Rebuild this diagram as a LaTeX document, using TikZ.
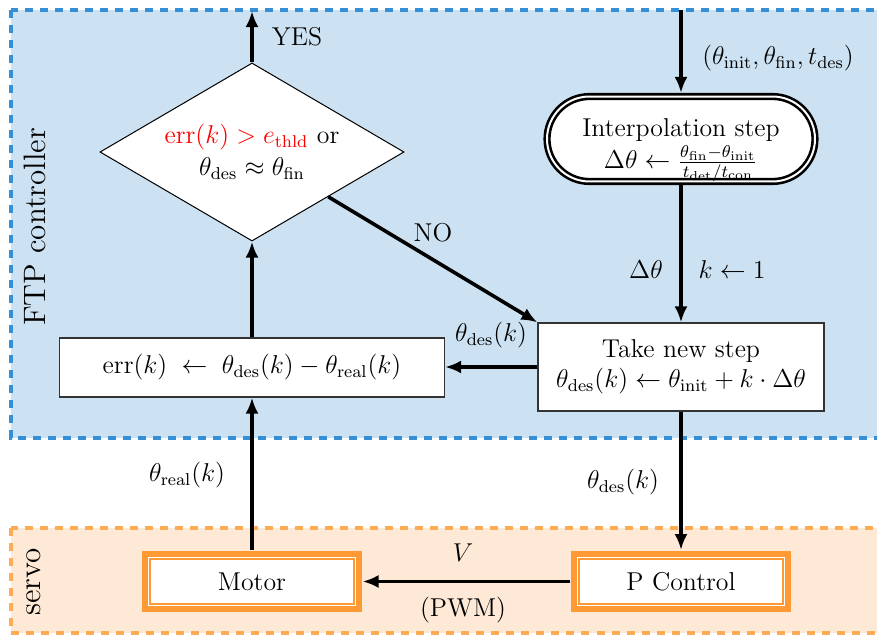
\documentclass[tikz,border=0pt]{standalone}
\usetikzlibrary{shapes.geometric,shapes.misc,arrows.meta}
\definecolor{ctrlfill}{RGB}{204,226,242}
\definecolor{ctrlline}{RGB}{52,143,214}
\definecolor{servofill}{RGB}{253,233,214}
\definecolor{servoline}{RGB}{255,170,85}
\definecolor{boxorange}{RGB}{255,153,51}
\begin{document}
\begin{tikzpicture}[x=0.465pt,y=-0.465pt,
  every node/.style={font=\large},
  region/.style={line width=1.49pt, dash pattern=on 3.72pt off 3.26pt},
  arr/.style={line width=1.67pt, -{Latex[length=7.44pt,width=6.05pt]}},
  plainbox/.style={draw=black!80, line width=0.56pt, fill=white, inner sep=0pt, align=center},
  hwbox/.style={fill=white, draw=boxorange, line width=0.84pt, double=white,
    double distance=0.47pt, preaction={draw=boxorange, line width=6.5pt},
    minimum width=95.8pt, minimum height=22.3pt, outer sep=3.49pt, inner sep=0pt},
  interpbox/.style={rounded rectangle, draw=black, line width=1.21pt, double=white,
    double distance=0.93pt, fill=white, minimum width=124.6pt, minimum height=39.5pt,
    inner sep=0pt, outer sep=1.67pt},
  decision/.style={diamond, aspect=1.7, draw=black, line width=0.47pt, fill=white,
    minimum width=141.4pt, minimum height=82.8pt, inner sep=0pt, align=center},
  regionlabel/.style={font=\Large, rotate=90}
]
\useasboundingbox (0,0) rectangle (877,635);
\clip (0,0) rectangle (877,635);

% background regions
\fill[ctrlfill] (11,10) rectangle (900,438);
\draw[region, ctrlline] (11,10) rectangle (900,438);
\fill[servofill] (11,528) rectangle (900,633);
\draw[region, servoline] (11,528) rectangle (900,633);

\node[regionlabel] (ftp) at (35,227) {FTP controller};
\node[regionlabel] (servo) at (34,582) {servo};

% blocks
\node[decision] (dia) at (252,152)
  {{\color{red}$\mathrm{err}(k) > e_{\mathrm{thld}}$} or\\[1pt] $\theta_{\mathrm{des}} \approx \theta_{\mathrm{fin}}$};
\node[plainbox, minimum width=179pt, minimum height=27.4pt] (err) at (252,367.5)
  {$\mathrm{err}(k)\;\leftarrow\;\theta_{\mathrm{des}}(k)-\theta_{\mathrm{real}}(k)$};
\node[plainbox, minimum width=133pt, minimum height=40.9pt] (step) at (681,367)
  {Take new step\\ $\theta_{\mathrm{des}}(k) \leftarrow \theta_{\mathrm{init}} + k\cdot\Delta\theta$};
% text sits in the lower part of the capsule
\node[interpbox] (interp) at (681,139)
  {\raisebox{-13.8pt}[0pt][0pt]{\begin{tabular}[b]{@{}c@{}}Interpolation step\\
   $\Delta\theta \leftarrow \frac{\theta_{\mathrm{fin}}-\theta_{\mathrm{init}}}{t_{\mathrm{det}}/t_{\mathrm{con}}}$\end{tabular}}};
\node[hwbox] (pctrl) at (681,581.5) {P Control};
\node[hwbox] (motor) at (252,581.5) {Motor};

% free ends on the controller border
\coordinate (yesend) at (252,11);
\coordinate (inbeg) at (681,10);

% connectors
\draw[arr] (inbeg) -- (interp.north);
\draw[arr] (interp.south) -- (step.north);
\draw[arr] (step.west) -- (step.west -| err.east);
\draw[arr] (err.north) -- (dia.south);
\draw[arr] (dia.north) -- (yesend);
\draw[arr] (dia.south east) -- (step.north west);
\draw[arr] (step.south) -- (pctrl.north);
\draw[arr] (pctrl.west) -- (motor.east);
\draw[arr] (motor.north) -- (err.south);

% connector labels
\node (lyes) at (297,37) {YES};
\node (lin) at (778,58) {$(\theta_{\mathrm{init}},\theta_{\mathrm{fin}},t_{\mathrm{des}})$};
\node (ldelta) at (646,270) {$\Delta\theta$};
\node (lk) at (732,270) {$k \leftarrow 1$};
\node (lno) at (433,233) {NO};
\node (ldesa) at (491,335) {$\theta_{\mathrm{des}}(k)$};
\node (lreal) at (187,475) {$\theta_{\mathrm{real}}(k)$};
\node (ldesb) at (623,482) {$\theta_{\mathrm{des}}(k)$};
\node (lv) at (463,553) {$V$};
\node (lpwm) at (463,610) {(PWM)};
\end{tikzpicture}
\end{document}
